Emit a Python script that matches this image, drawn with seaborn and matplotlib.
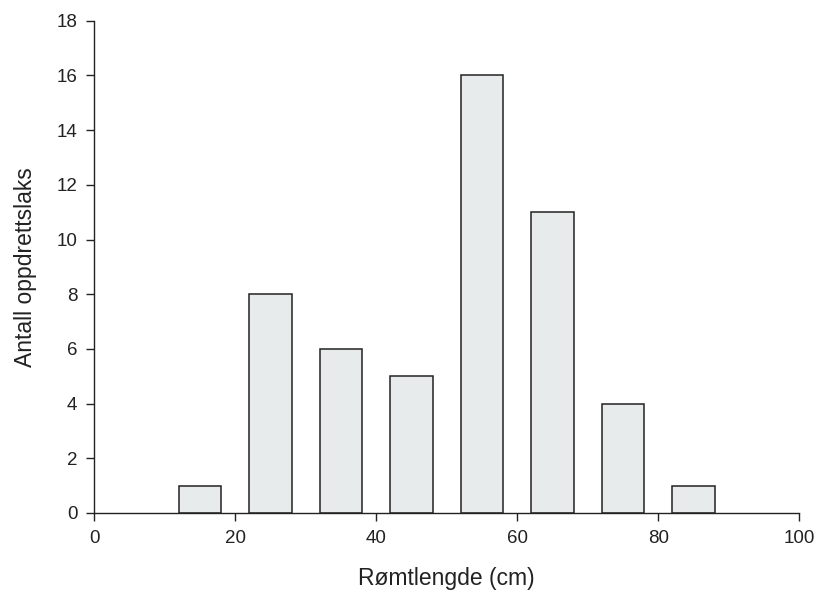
import matplotlib
matplotlib.use('Agg')
import matplotlib.pyplot as plt
import seaborn as sns
import pandas as pd

# Length classes (bin centres, cm) and number of escaped farmed salmon
lengths = [15, 25, 35, 45, 55, 65, 75, 85]
counts = [1, 8, 6, 5, 16, 11, 4, 1]

df = pd.DataFrame({'lengde': lengths, 'antall': counts})

sns.set_style('ticks')
plt.rcParams['font.family'] = ['Liberation Sans', 'DejaVu Sans']

fig = plt.figure(figsize=(8.18, 5.95), dpi=100)
ax = fig.add_axes([0.115, 0.138, 0.862, 0.827])

sns.barplot(data=df, x='lengde', y='antall', native_scale=True, width=0.6,
            color='#e7ebeb', edgecolor='#222222', linewidth=1.1,
            saturation=1, ax=ax)

ax.set_xlim(0, 100)
ax.set_ylim(0, 18)
ax.set_xticks(range(0, 101, 20))
ax.set_yticks(range(0, 19, 2))
ax.tick_params(axis='both', direction='out', length=6, width=1,
               labelsize=13.5, colors='#222222', pad=6)
ax.set_xlabel('Rømtlengde (cm)', fontsize=16.5, labelpad=15, color='#222222')
ax.set_ylabel('Antall oppdrettslaks', fontsize=16.5, labelpad=14, color='#222222')

sns.despine(ax=ax)
for s in ['left', 'bottom']:
    ax.spines[s].set_linewidth(1)
    ax.spines[s].set_color('#222222')

fig.savefig('out.png', dpi=100)
